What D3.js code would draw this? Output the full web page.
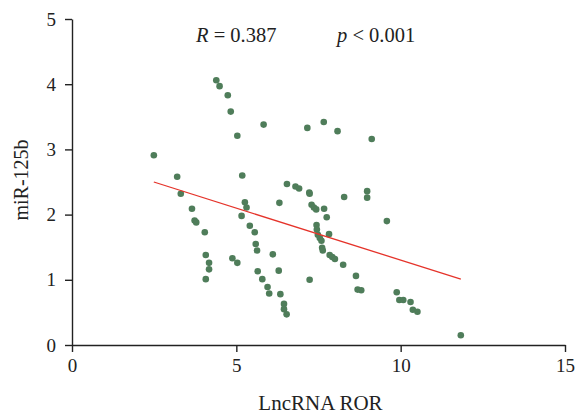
<!DOCTYPE html>
<html>
<head>
<meta charset="utf-8">
<script src="https://cdn.jsdelivr.net/npm/d3@7"></script>
<style>
  body { margin: 0; background: #fff; }
  text { font-family: "Liberation Serif", "DejaVu Serif", serif; fill: #222; }
</style>
</head>
<body>
<div id="scatter"></div>
<script>
// chart values
const lncRNA = [
  2.49, 3.20, 3.31, 3.65, 3.73, 3.78, 4.04, 4.07, 4.17, 4.17,
  4.07, 4.39, 4.49, 4.74, 4.83, 5.03, 5.18, 5.26, 5.31, 5.16,
  5.41, 5.56, 5.59, 5.63, 4.88, 5.03, 5.65, 5.79, 5.95, 6.00,
  5.83, 6.11, 6.29, 6.34, 6.45, 6.45, 6.53, 6.31, 6.54, 6.80,
  6.91, 7.16, 7.66, 8.08, 7.22, 7.23, 7.29, 7.36, 7.43, 7.67,
  7.75, 7.44, 7.45, 7.48, 7.54, 7.59, 7.82, 7.61, 7.63, 7.84,
  7.92, 8.00, 8.25, 7.23, 8.28, 8.98, 8.98, 9.12, 9.58, 8.64,
  8.69, 8.80, 9.88, 9.96, 10.08, 10.30, 10.37, 10.51, 11.83
];
const mir125b = [
  2.91, 2.58, 2.32, 2.09, 1.91, 1.88, 1.73, 1.38, 1.26, 1.16,
  1.01, 4.06, 3.97, 3.83, 3.58, 3.21, 2.60, 2.19, 2.11, 1.98,
  1.83, 1.73, 1.55, 1.45, 1.33, 1.26, 1.13, 1.01, 0.89, 0.79,
  3.38, 1.39, 1.14, 0.78, 0.63, 0.55, 0.47, 2.18, 2.47, 2.43,
  2.40, 3.33, 3.42, 3.28, 2.34, 2.32, 2.15, 2.11, 2.08, 2.09,
  1.96, 1.84, 1.77, 1.69, 1.64, 1.60, 1.70, 1.49, 1.45, 1.38,
  1.35, 1.32, 1.23, 1.00, 2.27, 2.36, 2.26, 3.16, 1.90, 1.06,
  0.85, 0.84, 0.81, 0.69, 0.69, 0.66, 0.54, 0.51, 0.15
];
// fitted line end points
const fitX = [2.49, 11.83];
const fitY = [2.50, 1.01];
const xTicks = [0, 5, 10, 15];
const yTicks = [0, 1, 2, 3, 4, 5];
const statLabels = ['R', ' = 0.387', 'p', ' < 0.001'];

const MARGINS = {top: 19, right: 10, bottom: 72, left: 72};
const W = 575, H = 417;
const PLOT_W = W - MARGINS.left - MARGINS.right;
const PLOT_H = H - MARGINS.top - MARGINS.bottom;
const FONT = '"Liberation Serif", "DejaVu Serif", serif';

const points = lncRNA.map((x, i) => ({x: x, y: mir125b[i]}));

const xScale = d3.scaleLinear().domain([0, 15]).range([0, PLOT_W]);
const yScale = d3.scaleLinear().domain([0, 5]).range([PLOT_H, 0]);

const svg = d3.select('#scatter')
  .append('svg')
  .attr('width', W)
  .attr('height', H);
const g = svg.append('g')
  .attr('transform', `translate(${MARGINS.left}, ${MARGINS.top})`);

// axes
const xAxis = g.append('g')
  .attr('transform', `translate(0, ${PLOT_H})`)
  .call(d3.axisBottom(xScale).tickValues(xTicks).tickFormat(d3.format('d'))
    .tickSize(7).tickSizeOuter(0).tickPadding(7));
const yAxis = g.append('g')
  .call(d3.axisLeft(yScale).tickValues(yTicks).tickFormat(d3.format('d'))
    .tickSize(7).tickSizeOuter(0).tickPadding(9));
[xAxis, yAxis].forEach(a => {
  a.attr('font-family', FONT);
  a.selectAll('path, line').attr('stroke', '#222').attr('stroke-width', 1.4);
  a.selectAll('text')
    .style('font-family', FONT)
    .attr('font-size', 19)
    .attr('fill', '#222');
});

// dots
g.append('g')
  .selectAll('circle')
  .data(points)
  .join('circle')
  .attr('cx', d => xScale(d.x))
  .attr('cy', d => yScale(d.y))
  .attr('r', 3.3)
  .attr('fill', '#4f7d5a');

// regression line
g.append('line')
  .attr('x1', xScale(fitX[0]))
  .attr('y1', yScale(fitY[0]))
  .attr('x2', xScale(fitX[1]))
  .attr('y2', yScale(fitY[1]))
  .attr('stroke', '#e5332a')
  .attr('stroke-width', 1.3);

// statistics
const stat1 = svg.append('text').attr('x', 196).attr('y', 42).attr('font-size', 20.5);
stat1.append('tspan').attr('font-style', 'italic').text(statLabels[0]);
stat1.append('tspan').text(statLabels[1]);
const stat2 = svg.append('text').attr('x', 337).attr('y', 42).attr('font-size', 20.5);
stat2.append('tspan').attr('font-style', 'italic').text(statLabels[2]);
stat2.append('tspan').text(statLabels[3]);

// axis titles
svg.append('text')
  .attr('x', MARGINS.left + PLOT_W / 2 + 2)
  .attr('y', 410)
  .attr('text-anchor', 'middle')
  .attr('font-size', 21)
  .text('LncRNA ROR');
svg.append('text')
  .attr('transform', `translate(28, ${MARGINS.top + PLOT_H / 2 - 2}) rotate(-90)`)
  .attr('text-anchor', 'middle')
  .attr('font-size', 20)
  .text('miR-125b');
</script>
</body>
</html>
